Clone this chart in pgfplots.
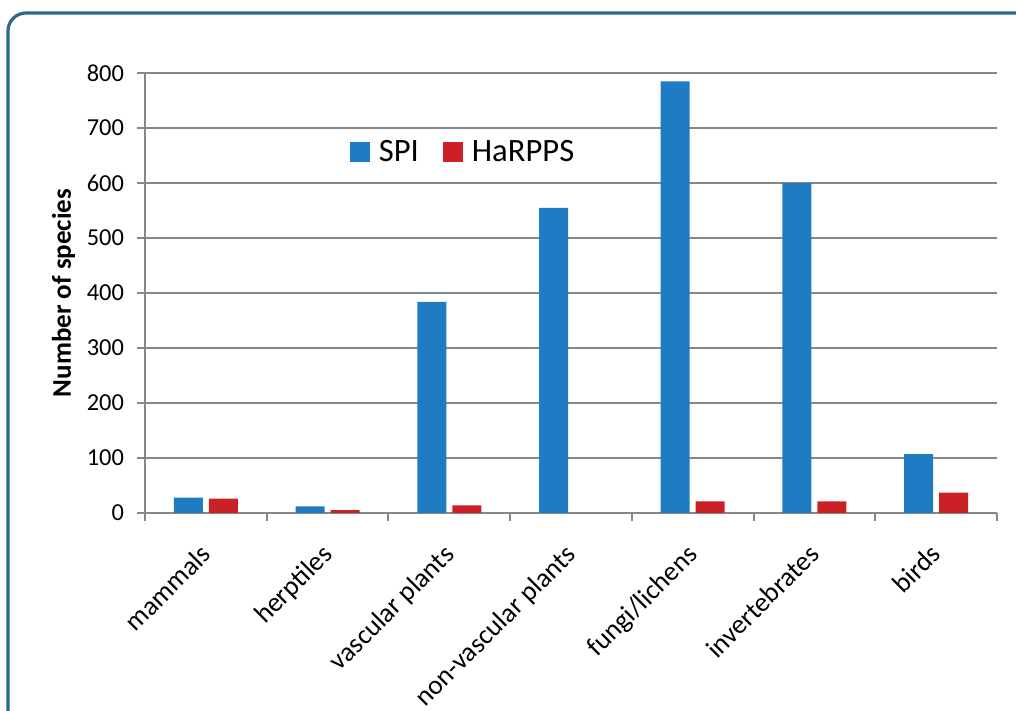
\documentclass[border=0pt]{standalone}
\usepackage{pgfplots}
\pgfplotsset{compat=1.18}
\usepackage{fontspec}
\setmainfont{Carlito}
\definecolor{frame}{RGB}{43,104,140}
\definecolor{spi}{RGB}{31,123,194}
\definecolor{harpps}{RGB}{204,32,39}
\definecolor{gridgray}{RGB}{135,135,137}
\begin{document}
\begin{tikzpicture}
\path[use as bounding box] (0,0) rectangle (508pt,355.5pt);
\begin{scope}
\clip (0,0) rectangle (508pt,355.5pt);
\draw[frame, line width=1.6pt, rounded corners=9pt] (4pt,-30pt) rectangle (540pt,349pt);
\end{scope}
\begin{axis}[
  at={(72.5pt,99pt)}, anchor=south west,
  scale only axis, width=426pt, height=220pt,
  xmin=-0.5, xmax=6.5, ymin=0, ymax=800,
  ytick={0,100,...,800},
  xtick={0,...,6},
  xticklabels={mammals,herptiles,vascular plants,non-vascular plants,fungi/lichens,invertebrates,birds},
  minor xtick={-0.5,0.5,...,6.5},
  major tick length=4pt,
  minor tick length=4pt,
  every major x tick/.append style={draw=none},
  tick align=outside,
  axis lines*=left,
  axis line style={gridgray, line width=1pt},
  every tick/.style={gridgray, line width=1pt},
  minor tick style={gridgray, line width=1pt},
  ymajorgrids, grid style={gridgray, line width=1pt},
  ybar=3pt, bar width=14.5pt,
  /pgf/number format/assume math mode=true,
  y tick label style={font=\fontsize{12.2}{14}\selectfont, text=black, xshift=-3pt},
  x tick label style={font=\fontsize{13.6}{15}\selectfont, text=black, rotate=45, anchor=north east, inner sep=1pt, xshift=-9pt, yshift=-4pt},
  ylabel={\textbf{Number of species}},
  ylabel style={font=\fontsize{13.5}{15}\selectfont, yshift=-1pt},
  legend style={at={(rel axis cs:0.24,0.82)}, anchor=west, draw=none, fill=none,
    font=\fontsize{16.3}{18}\selectfont, legend columns=2, inner sep=0pt,
    /tikz/every even column/.append style={column sep=10pt},
    /tikz/every odd column/.append style={column sep=2.5pt}},
  legend image code/.code={\fill[#1] (0pt,-5pt) rectangle (10pt,5pt);},
  clip=false,
]
\addplot[fill=spi, draw=none] coordinates {(0,28) (1,12) (2,384) (3,555) (4,785) (5,600) (6,107)};
\addplot[fill=harpps, draw=none] coordinates {(0,26) (1,5) (2,14) (3,0) (4,21) (5,21) (6,37)};
\legend{SPI,HaRPPS}
\end{axis}
\end{tikzpicture}
\end{document}
